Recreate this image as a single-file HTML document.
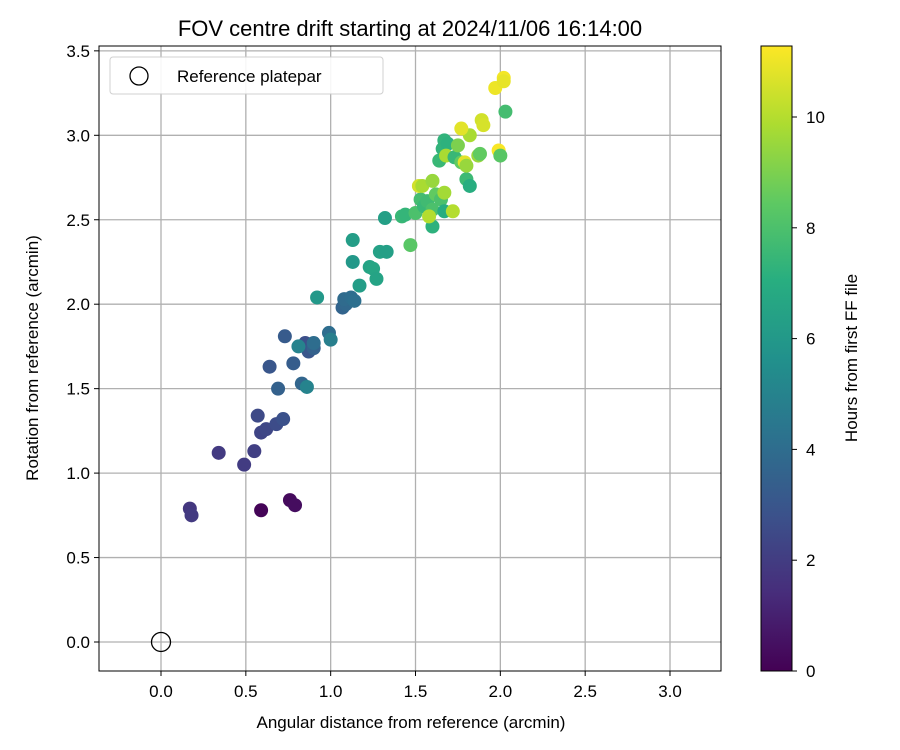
<!DOCTYPE html>
<html><head><meta charset="utf-8"><style>
body{margin:0;background:#fff;}
svg{display:block;font-family:"Liberation Sans",sans-serif;}
</style></head><body>
<svg id="chart" width="900" height="750">
<defs><linearGradient id="vir" x1="0" y1="1" x2="0" y2="0">
<stop offset="0" stop-color="#440154"/><stop offset="0.125" stop-color="#472d7b"/><stop offset="0.25" stop-color="#3b528b"/><stop offset="0.375" stop-color="#2c728e"/><stop offset="0.5" stop-color="#21918c"/><stop offset="0.625" stop-color="#28ae80"/><stop offset="0.75" stop-color="#5ec962"/><stop offset="0.875" stop-color="#addc30"/><stop offset="1" stop-color="#fde725"/></linearGradient></defs>
<text x="410" y="36" font-size="22" text-anchor="middle">FOV centre drift starting at 2024/11/06 16:14:00</text>
<g id="grid"></g><g id="pts"></g><g id="axes"></g>
<rect x="99" y="46" width="622" height="625" fill="none" stroke="#000" stroke-width="1"/>
<g>
<rect x="110" y="57" width="273" height="37" rx="3" fill="#fff" stroke="#ccc" opacity="0.9"/>
<circle cx="139" cy="76" r="9" fill="none" stroke="#000" stroke-width="1.3"/>
<text x="177" y="82" font-size="17">Reference platepar</text>
</g>
<text x="411" y="728" font-size="17" text-anchor="middle">Angular distance from reference (arcmin)</text>
<text transform="translate(38,358) rotate(-90)" font-size="17" text-anchor="middle">Rotation from reference (arcmin)</text>
<rect x="761" y="46" width="31" height="625" fill="url(#vir)" stroke="#000" stroke-width="1"/>
<g id="cbticks"></g>
<text transform="translate(857,358) rotate(-90)" font-size="17" text-anchor="middle">Hours from first FF file</text>
</svg>
<script>
const xTicks=[0,0.5,1,1.5,2,2.5,3];
const yTicks=[0,0.5,1,1.5,2,2.5,3,3.5];
const cTicks=[0,2,4,6,8,10];
const xs=[0.59,0.76,0.79,0.17,0.18,0.34,0.49,0.55,0.59,0.62,0.68,0.72,0.57,0.69,0.64,0.73,0.78,0.83,0.86,0.85,0.87,0.90,0.90,0.81,0.99,1.00,0.92,1.07,1.09,1.08,1.12,1.14,1.13,1.13,1.17,1.23,1.25,1.27,1.29,1.33,1.32,1.42,1.44,1.47,1.50,1.53,1.55,1.57,1.60,1.60,1.58,1.52,1.54,1.60,1.62,1.65,1.67,1.67,1.72,1.64,1.66,1.67,1.69,1.68,1.73,1.75,1.77,1.79,1.80,1.82,1.82,1.77,1.80,1.87,1.88,1.89,1.90,1.97,2.02,2.02,2.03,1.99,2.00];
const ys=[0.78,0.84,0.81,0.79,0.75,1.12,1.05,1.13,1.24,1.26,1.29,1.32,1.34,1.50,1.63,1.81,1.65,1.53,1.51,1.77,1.72,1.74,1.77,1.75,1.83,1.79,2.04,1.98,2.00,2.03,2.04,2.02,2.38,2.25,2.11,2.22,2.21,2.15,2.31,2.31,2.51,2.52,2.53,2.35,2.54,2.62,2.58,2.61,2.46,2.56,2.52,2.70,2.70,2.73,2.65,2.62,2.66,2.55,2.55,2.85,2.92,2.97,2.95,2.88,2.87,2.94,2.84,2.84,2.74,2.70,3.00,3.04,2.82,2.88,2.89,3.09,3.06,3.28,3.34,3.32,3.14,2.91,2.88];
const hours=[0.1,0.3,0.4,1.8,1.9,1.9,2.0,2.1,2.3,2.4,2.6,2.8,2.5,3.5,3.0,3.2,3.3,3.7,5.0,2.7,3.0,3.5,4.0,5.0,4.0,4.8,6.0,3.6,3.8,3.9,4.0,4.1,6.2,6.0,6.2,6.5,6.6,6.5,6.4,6.3,6.3,7.5,7.4,8.3,8.0,7.8,7.5,7.7,7.2,8.0,10.0,10.5,9.8,9.5,8.5,8.0,9.7,7.0,10.0,7.5,7.3,7.3,7.2,9.8,7.5,9.0,8.5,10.8,7.6,7.0,9.8,10.8,9.5,9.5,8.5,10.5,10.6,11.0,11.1,10.9,7.8,11.2,8.3];
const NS="http://www.w3.org/2000/svg";
const X=v=>161+v*169.67, Y=v=>642-v*168.9, C=v=>671-v*55.4, CMAX=11.28;
const vir=[[68,1,84],[71,45,123],[59,82,139],[44,114,142],[33,145,140],[40,174,128],[94,201,98],[173,220,48],[253,231,37]];
function col(h){let t=Math.max(0,Math.min(1,h/CMAX))*8;let i=Math.min(7,Math.floor(t)),f=t-i;const a=vir[i],b=vir[i+1];return `rgb(${a.map((v,k)=>Math.round(v+(b[k]-v)*f)).join(',')})`;}
function mk(tag,attrs,parent,txt){const e=document.createElementNS(NS,tag);for(const k in attrs)e.setAttribute(k,attrs[k]);if(txt!==undefined)e.textContent=txt;document.getElementById(parent).appendChild(e);return e;}
xTicks.forEach(v=>{
 const g=mk('line',{x1:X(v),x2:X(v),y1:46,y2:671,stroke:'#b0b0b0','stroke-width':1.3},'grid');
 
 
 mk('line',{x1:X(v),x2:X(v),y1:671,y2:676,stroke:'#000'},'axes');
 const t=mk('text',{x:X(v),y:697,'font-size':17,'text-anchor':'middle'},'axes',v.toFixed(1));
 
 
});
yTicks.forEach(v=>{
 const g=mk('line',{x1:99,x2:721,y1:Y(v),y2:Y(v),stroke:'#b0b0b0','stroke-width':1.3},'grid');
 
 
 mk('line',{x1:94,x2:99,y1:Y(v),y2:Y(v),stroke:'#000'},'axes');
 const t=mk('text',{x:90,y:Y(v)+6,'font-size':17,'text-anchor':'end'},'axes',v.toFixed(1));
 
 
});
cTicks.forEach(v=>{
 mk('line',{x1:792,x2:797,y1:C(v),y2:C(v),stroke:'#000'},'cbticks');
 const t=mk('text',{x:806,y:C(v)+6,'font-size':17},'cbticks',String(v));
 
 
});
xs.forEach((x,i)=>{
 const p=mk('circle',{cx:X(x),cy:Y(ys[i]),r:7,fill:col(hours[i])},'pts');
 
 
});
const r=mk('circle',{cx:X(0),cy:Y(0),r:9.5,fill:'none',stroke:'#000','stroke-width':1.3},'pts');


</script>
</body></html>
